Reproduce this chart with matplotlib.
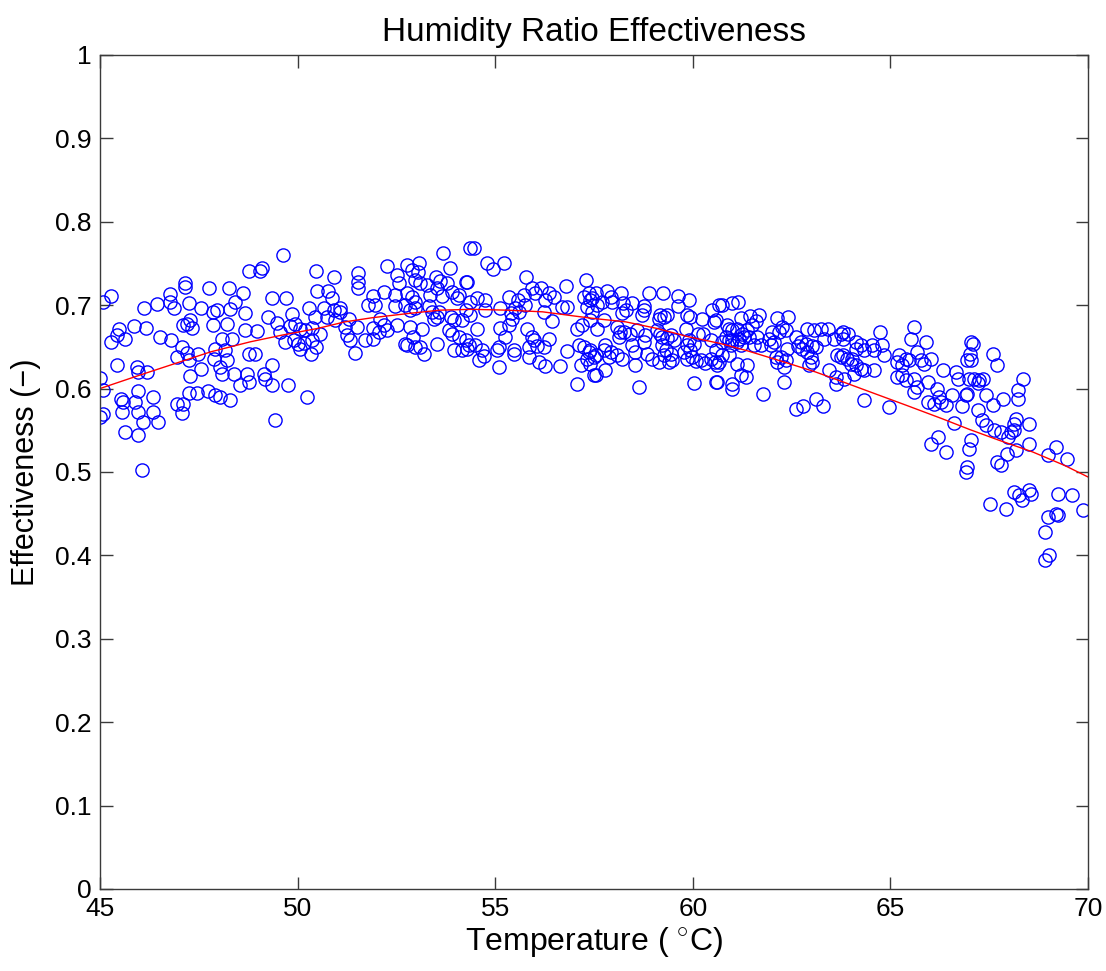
import matplotlib
matplotlib.use("Agg")
import matplotlib.pyplot as plt
import numpy as np

plt.rcParams['font.family'] = ['Liberation Sans', 'DejaVu Sans']
plt.rcParams['mathtext.fontset'] = 'custom'
plt.rcParams['mathtext.rm'] = 'Liberation Sans'

# Measured points (temperature degC, effectiveness)
temp_a = [45.27, 45.07, 47.15, 47.15, 47.76, 46.76, 46.44, 46.11, 46.76, 46.87, 47.26, 47.56, 47.87, 47.28, 47.11, 47.20,
          47.32, 47.87, 45.49, 45.42, 45.63, 45.27, 45.86, 46.17, 46.52, 46.79, 47.07, 47.20, 47.49, 46.94, 47.26, 47.89,
          45.44, 45.93, 45.97, 46.18, 47.55, 47.28, 45.00, 45.08, 45.97, 47.26, 47.46, 47.74, 47.91, 45.52, 45.57, 45.89,
          46.35, 46.96, 47.09, 45.56, 45.97, 46.35, 47.07, 45.08, 45.00, 46.08, 46.48, 45.63, 45.97, 46.07]
eff_a = [0.711, 0.704, 0.726, 0.722, 0.721, 0.713, 0.701, 0.696, 0.704, 0.697, 0.702, 0.697, 0.692, 0.682, 0.676, 0.678,
         0.673, 0.676, 0.671, 0.664, 0.660, 0.656, 0.675, 0.673, 0.662, 0.658, 0.650, 0.643, 0.642, 0.638, 0.634, 0.636,
         0.628, 0.626, 0.620, 0.620, 0.624, 0.615, 0.613, 0.598, 0.597, 0.595, 0.595, 0.597, 0.592, 0.587, 0.584, 0.584,
         0.590, 0.582, 0.582, 0.572, 0.572, 0.572, 0.571, 0.570, 0.566, 0.560, 0.560, 0.548, 0.544, 0.502]

temp_b = [49.64, 48.76, 49.05, 49.09, 50.46, 50.91, 48.27, 48.63, 48.42, 48.29, 47.96, 48.67, 49.35, 49.70, 50.49, 50.76,
          50.87, 50.28, 50.66, 50.91, 51.08, 49.26, 49.48, 49.87, 50.45, 50.74, 50.95, 48.21, 48.67, 48.97, 49.56, 49.81,
          49.94, 50.07, 50.19, 50.36, 50.57, 48.10, 48.35, 49.69, 49.90, 50.02, 50.17, 50.36, 50.07, 50.46, 50.34, 47.91,
          48.17, 48.76, 48.93, 48.21, 48.04, 49.35, 48.08, 48.38, 48.72, 48.76, 48.55, 49.14, 49.18, 49.36, 49.75, 48.04,
          48.29, 50.24, 49.43]
eff_b = [0.760, 0.741, 0.741, 0.744, 0.741, 0.734, 0.720, 0.715, 0.704, 0.695, 0.694, 0.690, 0.709, 0.709, 0.717, 0.717,
         0.709, 0.696, 0.696, 0.694, 0.692, 0.686, 0.679, 0.689, 0.686, 0.686, 0.682, 0.677, 0.670, 0.669, 0.668, 0.675,
         0.678, 0.672, 0.670, 0.673, 0.665, 0.659, 0.660, 0.656, 0.658, 0.654, 0.655, 0.658, 0.648, 0.650, 0.642, 0.648,
         0.646, 0.641, 0.641, 0.634, 0.626, 0.628, 0.618, 0.618, 0.618, 0.608, 0.604, 0.617, 0.611, 0.604, 0.604, 0.590,
         0.586, 0.590, 0.562]

temp_c = [53.67, 54.37, 52.26, 52.77, 53.06, 52.90, 53.04, 53.85, 51.52, 51.54, 51.54, 52.52, 52.56, 53.49, 53.61, 53.78,
          53.53, 53.28, 53.11, 52.98, 54.25, 52.18, 51.92, 51.77, 51.97, 52.47, 52.77, 52.90, 52.98, 53.36, 53.65, 53.91,
          54.08, 54.04, 52.47, 52.73, 52.85, 52.98, 53.32, 53.40, 53.57, 53.87, 53.95, 54.16, 51.08, 51.29, 51.21, 51.50,
          52.09, 51.92, 52.18, 52.26, 52.07, 52.52, 52.85, 53.15, 53.44, 53.53, 53.82, 53.91, 54.08, 51.25, 51.33, 51.71,
          51.92, 52.93, 52.77, 52.98, 53.11, 53.19, 52.73, 53.53, 53.95, 54.16, 54.29, 51.46]
eff_c = [0.762, 0.768, 0.747, 0.748, 0.751, 0.742, 0.740, 0.745, 0.738, 0.728, 0.720, 0.736, 0.726, 0.734, 0.729, 0.726,
         0.720, 0.724, 0.726, 0.730, 0.728, 0.716, 0.711, 0.700, 0.700, 0.712, 0.714, 0.710, 0.704, 0.712, 0.711, 0.716,
         0.712, 0.708, 0.699, 0.700, 0.694, 0.696, 0.699, 0.692, 0.692, 0.686, 0.682, 0.682, 0.696, 0.684, 0.674, 0.674,
         0.684, 0.673, 0.676, 0.670, 0.668, 0.676, 0.674, 0.672, 0.684, 0.686, 0.670, 0.666, 0.662, 0.664, 0.658, 0.658,
         0.660, 0.662, 0.652, 0.650, 0.650, 0.642, 0.654, 0.654, 0.646, 0.646, 0.648, 0.643]

temp_d = [54.46, 54.80, 54.94, 55.22, 54.29, 55.78, 56.78, 57.30, 55.93, 56.17, 56.02, 56.36, 56.48, 56.27, 55.72, 55.59,
          55.34, 54.54, 54.75, 54.37, 55.13, 55.51, 55.76, 55.39, 55.60, 55.43, 55.34, 54.25, 54.37, 54.75, 56.23, 56.45,
          56.69, 56.82, 57.24, 57.37, 57.41, 57.33, 57.45, 57.41, 57.20, 57.07, 54.54, 55.13, 55.81, 55.93, 55.98, 56.36,
          56.23, 56.06, 55.85, 55.26, 54.25, 54.33, 54.50, 54.67, 54.71, 54.58, 55.09, 55.05, 55.47, 55.47, 55.85, 56.10,
          56.27, 55.09, 56.65, 56.82, 57.12, 57.24, 57.37, 57.49, 57.33, 57.16, 57.49, 57.07]
eff_d = [0.768, 0.750, 0.743, 0.750, 0.728, 0.734, 0.723, 0.730, 0.721, 0.721, 0.714, 0.715, 0.710, 0.706, 0.712, 0.706,
         0.710, 0.708, 0.706, 0.704, 0.697, 0.697, 0.700, 0.691, 0.692, 0.684, 0.676, 0.694, 0.688, 0.694, 0.692, 0.681,
         0.698, 0.698, 0.710, 0.714, 0.706, 0.698, 0.692, 0.682, 0.676, 0.672, 0.671, 0.673, 0.671, 0.662, 0.658, 0.659,
         0.650, 0.651, 0.650, 0.662, 0.658, 0.652, 0.652, 0.646, 0.639, 0.634, 0.650, 0.646, 0.646, 0.642, 0.638, 0.632,
         0.627, 0.626, 0.627, 0.645, 0.652, 0.650, 0.644, 0.638, 0.636, 0.628, 0.616, 0.605]

temp_e = [57.82, 58.19, 57.92, 57.96, 57.54, 57.45, 57.58, 57.71, 58.24, 58.47, 58.76, 58.21, 58.30, 58.89, 59.25, 59.62,
          59.91, 59.62, 59.86, 59.94, 60.49, 60.66, 59.18, 59.27, 59.14, 59.35, 58.76, 58.72, 60.24, 60.53, 57.75, 57.58,
          58.09, 58.15, 58.13, 58.26, 58.42, 59.10, 59.18, 59.35, 59.44, 59.52, 59.22, 59.82, 60.13, 60.26, 60.45, 58.59,
          58.80, 58.76, 58.47, 59.90, 59.86, 60.03, 59.94, 57.41, 57.54, 57.79, 57.75, 57.92, 57.87, 58.09, 58.21, 59.22,
          59.31, 59.44, 59.26, 59.48, 59.39, 59.14, 58.97, 58.85, 58.55, 59.77, 59.86, 59.98, 60.07, 60.20, 60.32, 60.45,
          60.57, 57.41, 57.54, 57.79, 58.55, 58.63, 60.03, 60.58]
eff_e = [0.717, 0.714, 0.710, 0.704, 0.714, 0.708, 0.700, 0.704, 0.703, 0.703, 0.699, 0.691, 0.694, 0.714, 0.715, 0.711,
         0.706, 0.699, 0.688, 0.686, 0.694, 0.700, 0.688, 0.686, 0.683, 0.688, 0.694, 0.688, 0.684, 0.680, 0.682, 0.671,
         0.674, 0.668, 0.662, 0.668, 0.666, 0.670, 0.665, 0.661, 0.664, 0.658, 0.662, 0.672, 0.666, 0.666, 0.658, 0.670,
         0.664, 0.656, 0.652, 0.658, 0.652, 0.654, 0.646, 0.646, 0.640, 0.652, 0.646, 0.644, 0.638, 0.640, 0.636, 0.652,
         0.646, 0.642, 0.640, 0.634, 0.632, 0.632, 0.635, 0.642, 0.644, 0.644, 0.636, 0.638, 0.633, 0.634, 0.631, 0.636,
         0.632, 0.630, 0.616, 0.622, 0.628, 0.602, 0.607, 0.608]

temp_f = [60.75, 61.00, 61.15, 60.58, 61.21, 61.46, 61.67, 61.59, 61.50, 61.38, 61.25, 61.12, 61.00, 60.91, 60.87, 60.83,
          61.00, 61.17, 61.29, 61.42, 61.63, 61.72, 61.55, 61.21, 61.13, 60.96, 60.91, 60.75, 62.14, 62.42, 62.26, 62.35,
          62.18, 62.01, 61.93, 62.05, 61.97, 62.90, 63.07, 63.24, 63.43, 63.74, 63.57, 63.32, 62.60, 62.73, 62.65, 62.86,
          63.02, 63.11, 62.90, 62.98, 63.02, 62.94, 62.77, 62.39, 62.22, 62.35, 62.31, 62.14, 62.10, 60.58, 60.75, 60.91,
          60.66, 60.62, 61.12, 61.38, 61.34, 61.21, 63.45, 63.62, 63.62, 63.83, 63.74, 63.66, 60.62, 61.00, 61.00, 62.31,
          61.78, 62.60, 62.79, 63.11, 63.30]
eff_f = [0.700, 0.702, 0.704, 0.682, 0.685, 0.687, 0.688, 0.681, 0.676, 0.670, 0.666, 0.672, 0.670, 0.672, 0.676, 0.662,
         0.658, 0.660, 0.662, 0.662, 0.662, 0.652, 0.652, 0.652, 0.656, 0.652, 0.658, 0.656, 0.685, 0.686, 0.674, 0.670,
         0.668, 0.668, 0.660, 0.656, 0.652, 0.672, 0.670, 0.671, 0.671, 0.666, 0.660, 0.660, 0.662, 0.656, 0.651, 0.654,
         0.651, 0.650, 0.644, 0.638, 0.632, 0.628, 0.648, 0.648, 0.638, 0.634, 0.626, 0.632, 0.638, 0.646, 0.640, 0.640,
         0.632, 0.628, 0.630, 0.628, 0.614, 0.616, 0.622, 0.614, 0.606, 0.612, 0.638, 0.640, 0.608, 0.606, 0.599, 0.608,
         0.594, 0.576, 0.579, 0.588, 0.579]

temp_g = [63.79, 63.93, 63.79, 64.74, 64.12, 64.25, 64.12, 64.33, 64.54, 64.59, 64.80, 64.84, 63.79, 63.91, 64.04, 64.00,
          64.12, 64.25, 64.08, 64.33, 64.59, 64.33, 64.97, 65.60, 65.52, 65.90, 65.22, 65.39, 65.18, 65.30, 65.48, 65.68,
          65.77, 65.85, 66.02, 65.18, 65.30, 65.39, 65.60, 65.68, 65.94, 65.60, 66.32, 66.66, 66.70, 66.19, 66.23, 65.94,
          66.11, 66.28, 66.40, 66.57, 66.82, 66.61, 66.02, 66.21, 66.40, 67.04, 66.95, 66.99, 66.91, 66.91, 66.95]
eff_g = [0.668, 0.666, 0.659, 0.668, 0.656, 0.652, 0.648, 0.646, 0.652, 0.646, 0.652, 0.640, 0.640, 0.636, 0.636, 0.630,
         0.628, 0.624, 0.618, 0.622, 0.622, 0.586, 0.578, 0.674, 0.659, 0.656, 0.640, 0.636, 0.632, 0.628, 0.634, 0.644,
         0.634, 0.630, 0.636, 0.614, 0.616, 0.610, 0.612, 0.602, 0.608, 0.596, 0.622, 0.620, 0.612, 0.600, 0.590, 0.584,
         0.582, 0.584, 0.580, 0.592, 0.579, 0.559, 0.533, 0.542, 0.524, 0.656, 0.634, 0.612, 0.592, 0.500, 0.506]

temp_h = [67.09, 67.01, 67.04, 67.60, 67.69, 67.12, 67.25, 67.21, 67.35, 66.95, 67.42, 67.60, 67.85, 68.36, 68.22, 68.24,
          67.21, 67.33, 67.42, 67.63, 67.80, 67.97, 68.05, 68.13, 68.18, 68.13, 68.51, 68.51, 67.04, 66.99, 68.18, 67.96,
          67.71, 67.80, 69.00, 69.19, 69.46, 68.13, 68.26, 68.34, 68.51, 68.56, 67.52, 67.92, 69.23, 69.59, 68.98, 69.19,
          69.23, 69.88, 68.92, 69.02, 68.92]
eff_h = [0.654, 0.642, 0.634, 0.641, 0.628, 0.612, 0.610, 0.607, 0.612, 0.594, 0.592, 0.580, 0.588, 0.612, 0.598, 0.588,
         0.574, 0.562, 0.556, 0.550, 0.548, 0.542, 0.548, 0.550, 0.563, 0.558, 0.558, 0.533, 0.538, 0.528, 0.526, 0.522,
         0.512, 0.508, 0.520, 0.530, 0.515, 0.476, 0.472, 0.466, 0.478, 0.474, 0.462, 0.455, 0.474, 0.472, 0.446, 0.450,
         0.448, 0.454, 0.428, 0.400, 0.394]

# Fitted curve
fit_temp = [45.0, 46.0, 47.8, 48.8, 49.6, 50.5, 51.2, 51.9, 52.8, 53.6, 54.4, 55.3, 56.2, 57.0, 57.5, 58.3, 59.1, 59.9,
            60.7, 61.4, 62.3, 63.1, 63.8, 64.6, 65.4, 66.3, 67.0, 67.75, 68.6, 69.4, 70.0]
fit_eff = [0.600, 0.616, 0.644, 0.656, 0.664, 0.672, 0.680, 0.685, 0.690, 0.694, 0.695, 0.694, 0.692, 0.687, 0.684, 0.680,
           0.672, 0.662, 0.654, 0.645, 0.632, 0.620, 0.608, 0.594, 0.580, 0.564, 0.551, 0.538, 0.524, 0.508, 0.494]

x_ticks = [45, 50, 55, 60, 65, 70]
y_ticks = [0, 0.1, 0.2, 0.3, 0.4, 0.5, 0.6, 0.7, 0.8, 0.9, 1]
y_tick_labels = ['0', '0.1', '0.2', '0.3', '0.4', '0.5', '0.6', '0.7', '0.8', '0.9', '1']

temps = temp_a + temp_b + temp_c + temp_d + temp_e + temp_f + temp_g + temp_h
effs = eff_a + eff_b + eff_c + eff_d + eff_e + eff_f + eff_g + eff_h

fig = plt.figure(figsize=(11.06, 9.71), dpi=100)
ax = fig.add_axes([0.0904, 0.0845, 0.8933, 0.8589])

ax.plot(temps, effs, linestyle='none', marker='o', markersize=9.5, markerfacecolor='none',
        markeredgecolor=(0, 0, 1), markeredgewidth=1.0)
ax.plot(fit_temp, fit_eff, color=(1, 0, 0), linewidth=1.0)

ax.set_xlim(45, 70)
ax.set_ylim(0, 1)
ax.set_xticks(x_ticks)
ax.set_xticklabels([str(t) for t in x_ticks])
ax.set_yticks(y_ticks)
ax.set_yticklabels(y_tick_labels)
ax.tick_params(direction='in', length=9, width=1, top=True, right=True, labelsize=19, colors='#3a3a3a',
               labelcolor='black', pad=6)
for s in ax.spines.values():
    s.set_color('#3a3a3a')
    s.set_linewidth(1.0)

ax.set_title('Humidity Ratio Effectiveness', fontsize=24, pad=10)
ax.set_xlabel(r'Temperature ( $^{\circ}$C)', fontsize=23, labelpad=3)
ax.set_ylabel('Effectiveness (−)', fontsize=22, labelpad=10)

fig.savefig('out.png', dpi=100)
